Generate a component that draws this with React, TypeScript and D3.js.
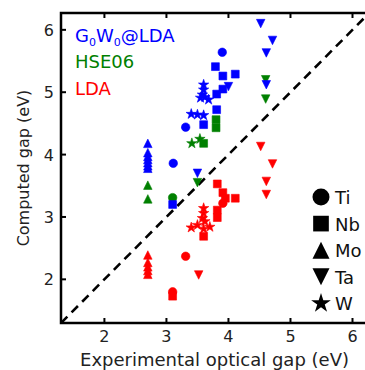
import React from "react";
import * as d3 from "d3";

// ---- data: [experimental gap, computed gap] ----
const gwTi = [[3.11, 3.86], [3.31, 4.44], [3.9, 5.64]];
const gwNb = [[3.1, 3.2], [3.6, 4.48], [3.81, 4.72], [3.81, 4.97], [3.91, 5.05], [3.79, 5.41], [3.91, 5.26], [4.11, 5.29]];
const gwMo = [[2.7, 4.18], [2.7, 4.03], [2.7, 3.97], [2.7, 3.92], [2.7, 3.87], [2.7, 3.82], [2.7, 3.78]];
const gwTa = [[3.5, 3.7], [4.0, 5.09], [4.52, 6.1], [4.71, 5.83], [4.61, 5.63], [4.61, 5.12]];
const gwW = [[3.6, 5.12], [3.6, 5.04], [3.58, 4.96], [3.55, 4.91], [3.68, 4.88], [3.62, 4.92], [3.4, 4.65], [3.5, 4.64], [3.6, 4.63]];

const hseTi = [[3.1, 3.31]];
const hseNb = [[3.6, 4.18], [3.8, 4.56], [3.8, 4.43]];
const hseMo = [[2.7, 3.51], [2.7, 3.29]];
const hseTa = [[3.5, 3.55], [4.6, 5.2], [4.6, 4.89]];
const hseW = [[3.41, 4.18], [3.54, 4.25]];

const ldaTi = [[3.1, 1.8], [3.31, 2.37], [3.91, 3.22]];
const ldaNb = [[3.1, 1.73], [3.6, 2.69], [3.82, 2.99], [3.82, 3.11], [3.82, 3.53], [3.91, 3.39], [3.95, 3.3], [4.11, 3.3]];
const ldaMo = [[2.7, 2.39], [2.7, 2.27], [2.7, 2.2], [2.7, 2.14], [2.7, 2.08]];
const ldaTa = [[3.52, 2.07], [4.52, 4.13], [4.71, 3.85], [4.61, 3.57], [4.61, 3.36]];
const ldaW = [[3.6, 3.14], [3.6, 3.06], [3.58, 2.98], [3.62, 2.93], [3.4, 2.83], [3.5, 2.87], [3.6, 2.81], [3.7, 2.84]];

const metals = ["Ti", "Nb", "Mo", "Ta", "W"];
const xTicks = [2, 3, 4, 5, 6];
const yTicks = [2, 3, 4, 5, 6];

const series = [
  { name: "LDA", color: "#ff0000", sets: [ldaTi, ldaNb, ldaMo, ldaTa, ldaW] },
  { name: "HSE06", color: "#008000", sets: [hseTi, hseNb, hseMo, hseTa, hseW] },
  { name: "GW", color: "#0000ff", sets: [gwTi, gwNb, gwMo, gwTa, gwW] },
];

const W = 365, H = 370;
const L = 61, R = 368, T = 13, B = 323;
const FONT = "DejaVu Sans, sans-serif";

function markerPath(metal: string, s: number): string {
  // s = marker full size (px)
  const h = s / 2;
  switch (metal) {
    case "Ti":
      return d3.symbol(d3.symbolCircle, Math.PI * h * h)() as string;
    case "Nb":
      return d3.symbol(d3.symbolSquare, s * s * 0.85)() as string;
    case "Mo":
      return `M0,${-h}L${h},${h}L${-h},${h}Z`;
    case "Ta":
      return `M0,${h}L${h},${-h}L${-h},${-h}Z`;
    default: {
      const Rr = h * 1.15;
      return d3.symbol(d3.symbolStar, (Rr * Rr) / 0.8908130915292852)() as string;
    }
  }
}

export default function App() {
  const x = d3.scaleLinear().domain([1.3, 6.25]).range([L, R]);
  const y = d3.scaleLinear().domain([1.3, 6.27]).range([B, T]);
  const diag = [1.3, 6.27];

  return (
    <svg width={W} height={H} style={{ position: "absolute", left: 0, top: 0, background: "#fff" }} fontFamily={FONT}>
      <defs>
        <clipPath id="plot">
          <rect x={L} y={T} width={R - L} height={B - T} />
        </clipPath>
      </defs>
      <g clipPath="url(#plot)">
        <line x1={x(diag[0])} y1={y(diag[0])} x2={x(diag[1])} y2={y(diag[1])} stroke="#000" strokeWidth={2.6} strokeDasharray="9,6" />
        {series.map((s) =>
          s.sets.map((pts, mi) =>
            pts.map((p, i) => (
              <path
                key={`${s.name}-${mi}-${i}`}
                d={markerPath(metals[mi], mi === 4 ? 9.5 : mi === 0 ? 8.5 : 8.5)}
                transform={`translate(${x(p[0])},${y(p[1])})`}
                fill={s.color}
                stroke={s.color}
                strokeWidth={0.6}
              />
            ))
          )
        )}
      </g>
      {/* spines */}
      <rect x={L} y={T} width={R - L} height={B - T} fill="none" stroke="#000" strokeWidth={2.5} />
      {/* ticks */}
      {xTicks.map((t) => (
        <g key={`xt${t}`}>
          <line x1={x(t)} x2={x(t)} y1={B} y2={B - 5} stroke="#000" strokeWidth={2} />
          <line x1={x(t)} x2={x(t)} y1={T} y2={T + 5} stroke="#000" strokeWidth={2} />
          <text x={x(t)} y={342} fontSize={16} textAnchor="middle" fill="#222">{t}</text>
        </g>
      ))}
      {yTicks.map((t) => (
        <g key={`yt${t}`}>
          <line x1={L} x2={L + 5} y1={y(t)} y2={y(t)} stroke="#000" strokeWidth={2} />
          <text x={54} y={y(t) + 6} fontSize={16} textAnchor="end" fill="#222">{t}</text>
        </g>
      ))}
      <text x={(L + 352) / 2 + 8} y={366} fontSize={18} textAnchor="middle" fill="#222">Experimental optical gap (eV)</text>
      <text transform={`translate(29,${(T + B) / 2}) rotate(-90)`} fontSize={16} textAnchor="middle" fill="#222">Computed gap (eV)</text>

      {/* method legend */}
      <text x={75} y={42} fontSize={18} fill="#0000ff">
        G<tspan fontSize={11} dy={4}>0</tspan><tspan dy={-4}>W</tspan><tspan fontSize={11} dy={4}>0</tspan><tspan dy={-4}>@LDA</tspan>
      </text>
      <text x={75} y={68} fontSize={18} fill="#008000">HSE06</text>
      <text x={75} y={95} fontSize={18} fill="#ff0000">LDA</text>

      {/* metal legend */}
      {metals.map((m, i) => {
        const cy = 197 + i * 26.6;
        return (
          <g key={m}>
            <path d={markerPath(m, m === "W" ? 18 : 17)} transform={`translate(321,${cy})`} fill="#000" />
            <text x={335} y={cy + 7} fontSize={18} fill="#111">{m}</text>
          </g>
        );
      })}
    </svg>
  );
}
